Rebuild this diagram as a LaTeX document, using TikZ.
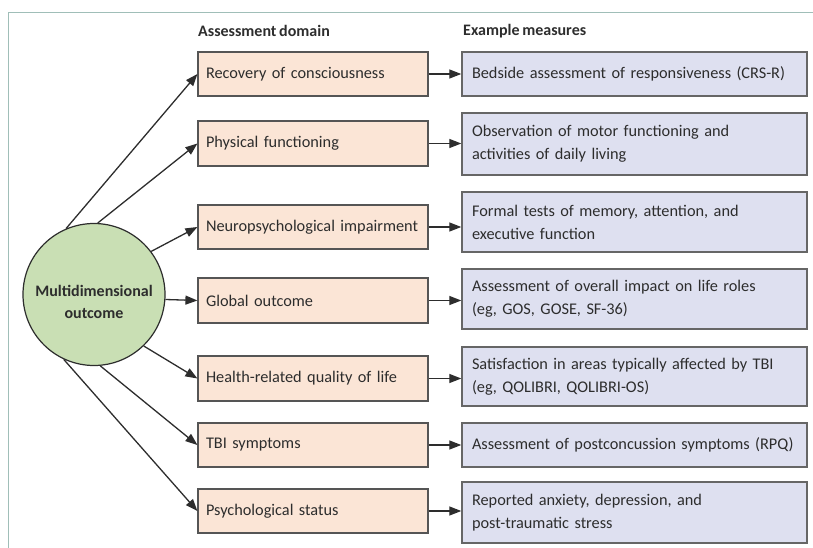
\documentclass[tikz,border=0pt]{standalone}
\usepackage{fontspec}
\setmainfont{Carlito}[WordSpace=0.75]
\usetikzlibrary{arrows.meta}
\definecolor{peach}{RGB}{251,229,214}
\definecolor{lav}{RGB}{222,224,240}
\definecolor{leaf}{RGB}{201,223,180}
\definecolor{framec}{RGB}{160,190,184}
\definecolor{ink}{RGB}{45,45,45}
\definecolor{edge}{RGB}{85,85,85}
\begin{document}
\begin{tikzpicture}[x=1pt,y=-1pt,
  txt/.style={font=\fontsize{16.3}{23}\selectfont, text=ink},
  dom/.style={txt, draw=edge, fill=peach, line width=1.2pt, text width=214pt, inner xsep=8pt, inner ysep=0pt, align=left, minimum height=#1},
  meas/.style={txt, draw=edge!90, fill=lav, line width=1.4pt, text width=325pt, inner xsep=10pt, inner ysep=0pt, align=left, minimum height=#1},
  head/.style={font=\fontsize{16}{18}\selectfont\bfseries, text=ink, anchor=west, inner sep=0pt},
  conn/.style={draw=ink, line width=1.3pt, -{Triangle[length=12pt,width=9pt]}}
]
\useasboundingbox (0,0) rectangle (813,548);
\draw[framec, line width=0.8pt] (8,548) -- (8,12) -- (813,12);

\node[head] (h1) at (198,31) {Assessment domain};
\node[head] (h2) at (463,31) {Example measures};

\node[circle, draw=ink, fill=leaf, line width=1.2pt, minimum size=142pt, inner sep=0pt] (c) at (94,294.5) {};
\node[txt, font=\fontsize{16}{22}\selectfont\bfseries, align=center] (ct) at (94,302) {Multidimensional\\outcome};

\node[dom=44pt] (l1) at (313,74) {Recovery of consciousness};
\node[dom=45pt] (l2) at (313,143.5) {Physical functioning};
\node[dom=44pt] (l3) at (313,227) {Neuropsychological impairment};
\node[dom=45pt] (l4) at (313,300.5) {Global outcome};
\node[dom=45pt] (l5) at (313,378.5) {Health-related quality of life};
\node[dom=44pt] (l6) at (313,445) {TBI symptoms};
\node[dom=44pt] (l7) at (313,511) {Psychological status};

\node[meas=44pt] (r1) at (634.5,74) {Bedside assessment of responsiveness (CRS-R)};
\node[meas=62pt] (r2) at (634.5,144) {Observation of motor functioning and\\activities of daily living};
\node[meas=60pt] (r3) at (634.5,222) {Formal tests of memory, attention, and\\executive function};
\node[meas=60pt] (r4) at (634.5,299) {Assessment of overall impact on life roles\\(eg, GOS, GOSE, SF-36)};
\node[meas=59pt] (r5) at (634.5,376.5) {Satisfaction in areas typically affected by TBI\\(eg, QOLIBRI, QOLIBRI-OS)};
\node[meas=44pt] (r6) at (634.5,445) {Assessment of postconcussion symptoms (RPQ)};
\node[meas=61pt] (r7) at (634.5,512.5) {Reported anxiety, depression, and\\post-traumatic stress};

\draw[conn] (c.113) -- (l1.west);
\draw[conn] (c.87) -- (l2.west);
\draw[conn] (c.37) -- (l3.west);
\draw[conn] (c.-4.5) -- (l4.west);
\draw[conn] (c.-46) -- (l5.west);
\draw[conn] (c.-85) -- (l6.west);
\draw[conn] (c.-115) -- (l7.west);

\foreach \i in {1,...,7}{
  \draw[conn] (l\i.east) -- (l\i.east -| r\i.west);
}
\end{tikzpicture}
\end{document}
